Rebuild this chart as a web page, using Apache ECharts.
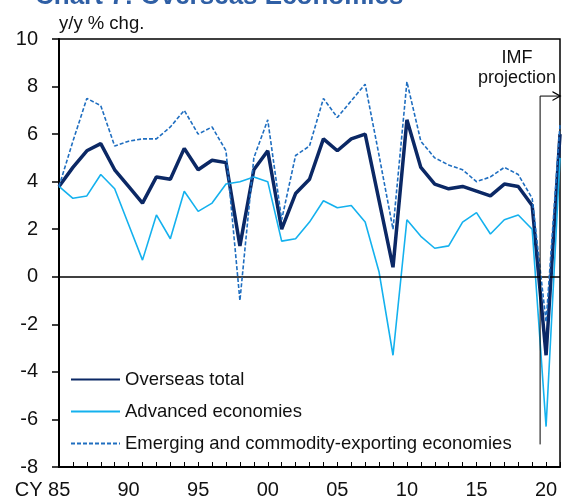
<!DOCTYPE html>
<html>
<head>
    <meta charset="UTF-8">
    <title>Overseas Economies</title>
    <script type="text/javascript" src="https://cdn.jsdelivr.net/npm/echarts@6/dist/echarts.min.js"></script>
</head>
<body style="margin:0">
    <div id="chart_overseas" style="width:563px; height:503px;"></div>
    <script>
        // calendar years, y/y % chg.
        var years = [1985, 1986, 1987, 1988, 1989, 1990, 1991, 1992, 1993, 1994,
                     1995, 1996, 1997, 1998, 1999, 2000, 2001, 2002, 2003, 2004,
                     2005, 2006, 2007, 2008, 2009, 2010, 2011, 2012, 2013, 2014,
                     2015, 2016, 2017, 2018, 2019, 2020, 2021];
        var overseasTotal = [3.8, 4.6, 5.3, 5.6, 4.5, 3.8, 3.1, 4.2, 4.1, 5.4,
                             4.5, 4.9, 4.8, 1.3, 4.5, 5.3, 2.0, 3.5, 4.1, 5.8,
                             5.3, 5.8, 6.0, 3.2, 0.4, 6.6, 4.6, 3.9, 3.7, 3.8,
                             3.6, 3.4, 3.9, 3.8, 3.0, -3.3, 6.0];
        var advanced = [3.8, 3.3, 3.4, 4.3, 3.7, 2.2, 0.7, 2.6, 1.6, 3.6,
                        2.75, 3.1, 3.9, 4.0, 4.2, 4.0, 1.5, 1.6, 2.3, 3.2,
                        2.9, 3.0, 2.3, 0.2, -3.3, 2.4, 1.7, 1.2, 1.3, 2.3,
                        2.7, 1.8, 2.4, 2.6, 2.0, -6.3, 5.0];
        var emerging = [3.8, 5.7, 7.5, 7.2, 5.5, 5.7, 5.8, 5.8, 6.3, 7.0,
                        6.0, 6.3, 5.3, -1.0, 5.0, 6.6, 2.4, 5.1, 5.5, 7.5,
                        6.7, 7.4, 8.1, 5.1, 2.0, 8.2, 5.7, 5.0, 4.7, 4.5,
                        4.0, 4.2, 4.6, 4.3, 3.3, -1.9, 6.4];
        var seriesNames = ['Overseas total', 'Advanced economies',
                           'Emerging and commodity-exporting economies'];
        // IMF projection bracket: start year, bottom and top of the bracket
        var projStart = 2019.57;
        var projBottom = -7.05;
        var projTop = 7.6;

        var FONT = 'Liberation Sans, Arial, sans-serif';

        function pairs(vals) {
            return years.map(function (y, i) { return [y, vals[i]]; });
        }

        var chart = echarts.init(document.getElementById('chart_overseas'), null, {renderer: 'canvas'});

        var option = {
            animation: false,
            textStyle: {fontFamily: FONT},
            grid: {
                left: 59, right: 1, top: 39, bottom: 36,
                show: true, borderColor: '#000', borderWidth: 1.5,
                backgroundColor: 'transparent'
            },
            graphic: [
                {
                    type: 'text', left: 35, top: -16,
                    style: {text: 'Chart 7: Overseas Economies', fill: '#2f5fa5',
                            font: 'bold 26px ' + FONT}
                },
                {
                    type: 'text', x: 517, y: 48,
                    style: {text: 'IMF\nprojection', fill: '#111', align: 'center',
                            verticalAlign: 'top', font: '18px ' + FONT, lineHeight: 20}
                }
            ],
            legend: {
                data: seriesNames,
                orient: 'vertical',
                left: 70, top: 370, padding: 0,
                itemWidth: 49, itemHeight: 14, itemGap: 13,
                itemStyle: {opacity: 0},
                textStyle: {fontSize: 18.5, color: '#111', fontFamily: FONT}
            },
            xAxis: {
                type: 'value', min: 1985, max: 2021, interval: 1,
                axisLine: {onZero: false, lineStyle: {color: '#000', width: 2}},
                axisTick: {inside: true, length: 5, lineStyle: {color: '#000', width: 1}},
                splitLine: {show: false},
                axisLabel: {
                    fontSize: 20, color: '#111', margin: 13,
                    formatter: function (v) {
                        if (v % 5 !== 0 || v > 2020) return '';
                        if (v === 1985) return '{a|CY }85{b|}';
                        return String(v).slice(2);
                    },
                    rich: {
                        a: {fontSize: 20, color: '#111'},
                        b: {width: 33}
                    }
                }
            },
            yAxis: {
                type: 'value', min: -8, max: 10, interval: 2,
                name: 'y/y % chg.', nameLocation: 'end', nameGap: 6,
                nameTextStyle: {fontSize: 18.5, color: '#111', align: 'left'},
                axisLine: {lineStyle: {color: '#000', width: 2}},
                axisTick: {length: 7, lineStyle: {color: '#000', width: 1.5}},
                splitLine: {show: false},
                axisLabel: {fontSize: 20, color: '#111', margin: 21}
            },
            series: [
                {
                    name: seriesNames[0], type: 'line', data: pairs(overseasTotal),
                    symbol: 'none', z: 3,
                    lineStyle: {color: '#0b2865', width: 3.5},
                    itemStyle: {color: '#0b2865'},
                    markLine: {
                        silent: true, symbol: 'none', label: {show: false},
                        lineStyle: {color: '#000', width: 1.5, type: 'solid'},
                        data: [{yAxis: 0}]
                    }
                },
                {
                    name: seriesNames[1], type: 'line', data: pairs(advanced),
                    symbol: 'none', z: 4,
                    lineStyle: {color: '#14b1ee', width: 1.6},
                    itemStyle: {color: '#14b1ee'}
                },
                {
                    name: seriesNames[2], type: 'line', data: pairs(emerging),
                    symbol: 'none', z: 5,
                    lineStyle: {color: '#1f6ec0', width: 1.6, type: [4, 2]},
                    itemStyle: {color: '#1f6ec0'}
                },
                {
                    name: 'IMF projection', type: 'line', z: 6,
                    symbol: 'none', silent: true,
                    lineStyle: {color: '#000', width: 1},
                    data: [
                        [projStart, projBottom],
                        [projStart, projTop],
                        {
                            value: [2021, projTop],
                            symbol: 'path://M0,10 L5,0 L10,10 L8.6,10 L5,2.8 L1.4,10 Z',
                            symbolSize: [10, 9], symbolRotate: -90, symbolOffset: [-3, 0],
                            itemStyle: {color: '#000'}
                        }
                    ]
                }
            ]
        };
        chart.setOption(option);
    </script>
</body>
</html>
